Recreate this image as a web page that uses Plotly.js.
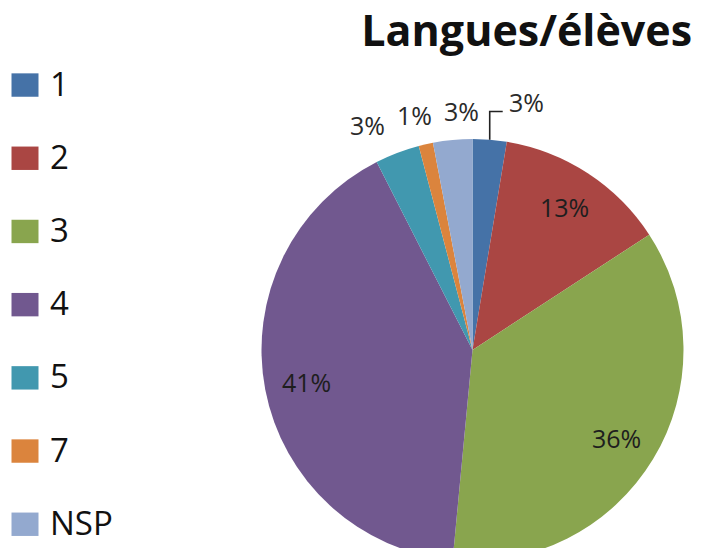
<!DOCTYPE html>
<html>
<head>
<meta charset="utf-8">
<script src="https://cdn.plot.ly/plotly-3.0.1.min.js"></script>
<style>
html, body { margin: 0; padding: 0; overflow: hidden; background: #fff; }
#chart { width: 707px; height: 600px; }
.legend path.legendpie { transform: translate(25px, 0px) scale(2.25, 1.95); }
</style>
</head>
<body>
<div id="chart"></div>
<script>
// Data
const categories = ['1', '2', '3', '4', '5', '7', 'NSP'];
const shares = [2.6, 13.2, 35.7, 41.0, 3.4, 1.1, 3.0];
const sliceColors = ['#4572A7', '#AA4643', '#89A54E', '#71588F', '#4198AF', '#DB843D', '#93A9CF'];
const insideLabel = [false, true, true, true, false, false, false];
const leaderLabel = [true, false, false, false, false, false, false];
const chartTitle = 'Langues/élèves';

// legend labels: bigger text, two-line entry for the spacing
const legendLabels = categories.map(c => '<span style="font-size:33px">' + c + '</span><br> ');

const W = 707, H = 600;
const cx = 472.5, cy = 350, R = 211;
const total = shares.reduce((a, b) => a + b, 0);
const pct = v => Math.round(100 * v / total) + '%';
const px2x = x => x / W;
const px2y = y => (H - y) / H;

// percentage labels placed from each slice's mid-angle
const annotations = [];
const shapes = [];
let cum = 0;
const spread = [];
shares.forEach((v, i) => {
  const mid = 2 * Math.PI * (cum + v / 2) / total;
  cum += v;
  const sx = Math.sin(mid), sy = -Math.cos(mid);
  if (insideLabel[i]) {
    annotations.push({ text: pct(v), x: px2x(cx + 0.8 * R * sx), y: px2y(cy + 0.81 * R * sy),
      xanchor: 'center', yanchor: 'middle', color: '#1e1e1e' });
  } else if (leaderLabel[i]) {
    const ex = cx + R * sx, ey = cy + R * sy;
    const ly = cy - 1.13 * R;
    const lx = ex + 13;
    shapes.push({
      type: 'path', xref: 'paper', yref: 'paper',
      path: 'M' + px2x(ex) + ',' + px2y(ey) + 'V' + px2y(ly) + 'H' + px2x(lx),
      line: { color: '#222', width: 1.6 }
    });
    annotations.push({ text: pct(v), x: px2x(lx + 4), y: px2y(ly + 9), xanchor: 'left', yanchor: 'bottom' });
  } else {
    spread.push({ text: pct(v), px: cx + 1.13 * R * sx, py: cy + 1.14 * R * sy });
  }
});
// spread neighbouring outside labels evenly so that they do not overlap
const gap = 47;
const meanX = spread.reduce((a, s) => a + s.px, 0) / spread.length - 5;
spread.sort((a, b) => a.px - b.px).forEach((s, k) => {
  const x = meanX + (k - (spread.length - 1) / 2) * gap;
  annotations.push({ text: s.text, x: px2x(x), y: px2y(s.py), xanchor: 'center', yanchor: 'middle' });
});
annotations.forEach(a => {
  const c = a.color || '#2a2a2a';
  delete a.color;
  a.xref = 'paper'; a.yref = 'paper'; a.showarrow = false;
  a.font = { family: 'Open Sans, sans-serif', size: 25, color: c };
});

const trace = {
  type: 'pie',
  labels: legendLabels,
  values: shares,
  sort: false,
  direction: 'clockwise',
  rotation: 0,
  marker: { colors: sliceColors, line: { width: 0 } },
  textposition: 'none',
  hoverinfo: 'label+percent',
  domain: {
    x: [(cx - R) / W, (cx + R) / W],
    y: [(H - cy - R) / H, (H - cy + R) / H]
  }
};

const layout = {
  width: W,
  height: H,
  margin: { l: 0, r: 0, t: 0, b: 0, autoexpand: false },
  paper_bgcolor: '#ffffff',
  showlegend: true,
  annotations: annotations,
  shapes: shapes,
  title: {
    text: '<b>' + chartTitle + '</b>',
    font: { family: 'Open Sans, sans-serif', size: 43, color: '#111' },
    x: 0.745, xref: 'container', xanchor: 'center',
    y: 1 - 31 / H, yref: 'container', yanchor: 'middle'
  },
  legend: {
    x: 0, xref: 'container', xanchor: 'left',
    y: 1 - 61 / H, yref: 'container', yanchor: 'top',
    font: { family: 'Open Sans, sans-serif', size: 27, color: '#111' },
    itemwidth: 40,
    valign: 'top',
    maxheight: 600,
    bgcolor: 'rgba(0,0,0,0)'
  }
};

Plotly.newPlot('chart', [trace], layout, { displayModeBar: false, staticPlot: true });
</script>
</body>
</html>
